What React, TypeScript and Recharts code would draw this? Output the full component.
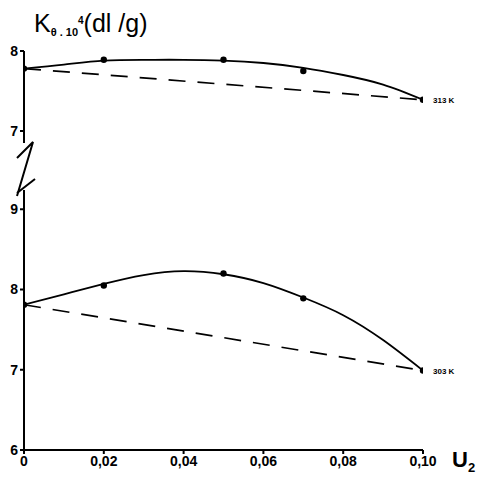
import React from "react";
import { ComposedChart, Line, XAxis, YAxis, LabelList } from "recharts";

// measured points
const U2 = [0, 0.02, 0.05, 0.07, 0.1];
const K_313 = [7.78, 7.89, 7.89, 7.75, 7.39];
const K_303 = [7.81, 8.05, 8.2, 7.89, 6.99];

// hand-drawn fitted curves, every 0.01
const CURVE_U = [0, 0.01, 0.02, 0.03, 0.04, 0.05, 0.06, 0.07, 0.08, 0.09, 0.1];
const CURVE_313 = [7.78, 7.83, 7.88, 7.89, 7.89, 7.88, 7.85, 7.79, 7.7, 7.58, 7.39];
const CURVE_303 = [7.81, 7.94, 8.07, 8.18, 8.23, 8.19, 8.08, 7.9, 7.68, 7.37, 6.99];

const X_TICKS = [0, 0.02, 0.04, 0.06, 0.08, 0.1];
const UPPER_TICKS = [7, 8];
const LOWER_TICKS = [6, 7, 8, 9];

const W = 481;
const H = 479;
const INK = "#000";
const FONT = "'Liberation Sans', Arial, sans-serif";

type Pt = { u: number; k: number };
const zip = (us: number[], ks: number[]): Pt[] => us.map((u, i) => ({ u, k: ks[i] }));

const upperPts = zip(U2, K_313);
const lowerPts = zip(U2, K_303);
const upperCurve = zip(CURVE_U, CURVE_313);
const lowerCurve = zip(CURVE_U, CURVE_303);
// dashed chords join first and last measured points
const chord = (p: Pt[]) => [p[0], p[p.length - 1]];

const fmtU = (v: number) => (v === 0 ? "0" : v.toFixed(2).replace(".", ","));

const tickStyle = { fontSize: 14, fontWeight: 700, fill: INK, fontFamily: FONT };

function endLabel(text: string) {
  return (props: any) => {
    if (props.index !== U2.length - 1) return null;
    return (
      <text
        x={Number(props.x) + 10}
        y={Number(props.y) + 3}
        fontSize={8}
        fontWeight={700}
        fontFamily={FONT}
        fill={INK}
      >
        {text}
      </text>
    );
  };
}

function Panel({
  pts,
  curve,
  domain,
  ticks,
  top,
  height,
  showX,
  label,
}: {
  pts: Pt[];
  curve: Pt[];
  domain: [number, number];
  ticks: number[];
  top: number;
  height: number;
  showX: boolean;
  label: string;
}) {
  return (
    <ComposedChart
      width={W}
      height={height}
      margin={{ top, right: 58, left: 0, bottom: 0 }}
      style={{ position: "absolute", left: 0, top: 0 }}
    >
      <XAxis
        type="number"
        dataKey="u"
        domain={[0, 0.1]}
        ticks={X_TICKS}
        tickFormatter={fmtU}
        hide={!showX}
        height={29}
        tick={tickStyle}
        tickSize={4}
        tickMargin={2}
        stroke={INK}
        strokeWidth={2}
        allowDataOverflow
      />
      <YAxis
        type="number"
        domain={domain}
        ticks={ticks}
        width={24}
        tick={tickStyle}
        tickSize={4}
        tickMargin={2}
        stroke={INK}
        strokeWidth={2}
        allowDataOverflow
      />
      <Line
        data={chord(pts)}
        dataKey="k"
        type="linear"
        stroke={INK}
        strokeWidth={1.7}
        strokeDasharray="17 12"
        dot={false}
        isAnimationActive={false}
      />
      <Line
        data={curve}
        dataKey="k"
        type="natural"
        stroke={INK}
        strokeWidth={1.8}
        dot={false}
        isAnimationActive={false}
      />
      <Line
        data={pts}
        dataKey="k"
        stroke="none"
        dot={{ r: 3.2, fill: INK, stroke: INK, strokeWidth: 0 }}
        isAnimationActive={false}
      >
        <LabelList dataKey="k" content={endLabel(label)} />
      </Line>
    </ComposedChart>
  );
}

export default function App() {
  return (
    <div
      style={{
        position: "absolute",
        left: 0,
        top: 0,
        width: W,
        height: H,
        background: "#fff",
        fontFamily: FONT,
        color: INK,
      }}
    >
      <Panel
        pts={lowerPts}
        curve={lowerCurve}
        domain={[6, 9.24]}
        ticks={LOWER_TICKS}
        top={190}
        height={H}
        showX
        label="303 K"
      />
      <Panel
        pts={upperPts}
        curve={upperCurve}
        domain={[6.85, 8]}
        ticks={UPPER_TICKS}
        top={51}
        height={143}
        showX={false}
        label="313 K"
      />
      {/* axis break mark */}
      <svg width={W} height={H} style={{ position: "absolute", left: 0, top: 0, pointerEvents: "none" }}>
        <polyline points="17,158 33,142 17,196" fill="none" stroke={INK} strokeWidth={2} />
        <line x1={17} y1={193} x2={35} y2={179} stroke={INK} strokeWidth={2} />
      </svg>
      <div
        style={{
          position: "absolute",
          left: 34,
          top: 8,
          fontSize: 25,
          whiteSpace: "nowrap",
          lineHeight: "30px",
        }}
      >
        K
        <span style={{ fontSize: 11, fontWeight: 700, position: "relative", top: 4 }}>
          θ . 10<span style={{ position: "relative", top: -12, fontSize: 10 }}>4</span>
        </span>
        (dl /g)
      </div>
      <div
        style={{
          position: "absolute",
          left: 452,
          top: 447,
          fontSize: 22,
          fontWeight: 700,
          whiteSpace: "nowrap",
        }}
      >
        U<span style={{ fontSize: 13, position: "relative", top: 5 }}>2</span>
      </div>
    </div>
  );
}
